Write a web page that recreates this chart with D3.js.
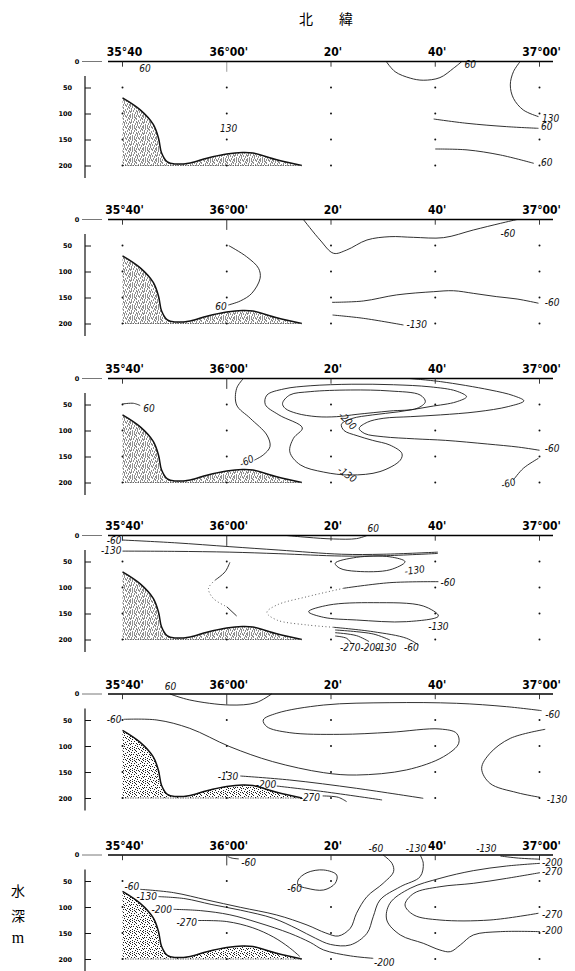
<!DOCTYPE html>
<html>
<head>
<meta charset="utf-8">
<script src="https://cdn.jsdelivr.net/npm/d3@7"></script>
<style>
body { margin: 0; background: #fff; }
svg { display: block; }
.stn { font-family: "DejaVu Sans Condensed", "DejaVu Sans", sans-serif; font-stretch: condensed; font-weight: bold; font-size: 12px; fill: #000; }
.cl { font-family: "Liberation Sans Narrow", "DejaVu Sans Condensed", "Liberation Sans", sans-serif; font-style: italic; font-size: 10px; fill: #111; }
.dep { opacity: 0.99; }
.dep text { font-family: "DejaVu Sans", sans-serif; font-weight: bold; font-size: 6.5px; fill: #000; }
.side { font-family: "Noto Sans CJK JP", sans-serif; font-size: 14px; fill: #000; }
</style>
</head>
<body>
<svg width="575" height="971"></svg>
<script>
/**********************
 Data (minutes north of 35°40', depth m)
**********************/
var stationMin = [0, 20, 40, 60, 80];
var stationText = ["35°40'", "36°00'", "20'", "40'", "37°00'"];
var depthTicks = [50, 100, 150, 200];
var sampleDepths = [50, 100, 150, 200];
var seabed = [[0,70],[3.4,93],[5.9,121],[6.9,147],[7.5,176],[8.6,193],[10,197],[13,195],[16.2,186],[20,178],[23,175],[25,176],[29.6,189],[34.4,200]];

// contour lines per section
var panel1 = [
  {v: 60, pts: [[50.6,0],[52.3,19.6],[55.2,32],[57.7,36],[60.9,31],[63.5,13],[65.1,0]]},
  {v: 130, pts: [[76.3,0],[75,19.6],[74.4,45],[75,70.8],[76.9,93.3],[79.8,106]]},
  {v: 60, pts: [[59.7,110.6],[66.1,118.9],[73.7,125.3],[79.8,128.5]]},
  {v: 60, pts: [[60,168.3],[66.1,170],[72.5,179.8],[78.9,195.8]]}
];
var panel2 = [
  {v: 60, pts: [[20.4,50.3],[23.8,71.5],[26.1,93.9],[26.4,113],[24.8,142],[22.6,156.7],[20.3,164.4]]},
  {v: -60, pts: [[34.7,0],[37.9,39.4],[40.5,65],[43,58.7],[46.9,39.4],[51.3,33],[55.8,34.3],[61.6,34.9],[67.3,20.2],[72.5,7.4],[75.7,0]]},
  {v: -60, pts: [[40.2,159.3],[46.2,156.7],[52.6,145],[59.7,138.8],[63.5,137],[67.3,142],[71.8,148.4],[75.7,152.9],[79.8,161]]},
  {v: -130, pts: [[40.3,183.7],[46.2,190],[53.9,202.9]]}
];
var panel3 = [
  {v: 60, pts: [[0,49],[2.1,47.7],[3.4,52]]},
  {v: -60, pts: [[23.2,0],[21.9,19],[21.9,51],[24.5,76.5],[27.7,108.7],[28.3,131],[27,147],[25.3,157]]},
  {v: -200, closed: true, pts: [[30.7,47.8],[32.1,31.7],[36,25.3],[43.7,22.1],[51.3,24],[57.1,31.7],[58.1,44.6],[56.5,57.4],[51.3,62.5],[45,68.9],[41.1,73.4],[37.3,73.4],[33.4,67],[31.2,57.4]]},
  {v: -130, closed: true, pts: [[27.7,32],[31,20],[36,14],[44,11],[52,12],[59,16],[64,24],[66,35],[64,45],[59,54],[53,64],[48,70],[44,77],[42,88],[42.5,100],[45,110],[48,119],[51.3,128],[53.6,144],[53.3,157],[49.4,179],[43.7,185.6],[38.6,180],[34.1,166],[32.1,141],[32.8,115],[34.5,95],[30,70],[27.4,50]]},
  {v: -60, pts: [[55,0],[61,6],[70.5,22],[75,33],[77,43],[74,54],[68,64],[61,70],[55.2,73.4],[50,76.6],[47,84],[45.4,96],[46.5,106],[50,112],[56,116],[62,119],[70,126],[76,132],[80,138]]},
  {v: -60, pts: [[75,195],[76.9,172.7],[79.8,153.5]]}
];
var panel4 = [
  {v: 60, pts: [[31.5,0],[35.4,3.5],[40.5,6.7],[44.9,6],[46.9,0]]},
  {v: -60, pts: [[0,8.7],[10,14],[20.6,21.5],[30,28],[42,36],[50,36],[60.5,32]]},
  {v: -130, pts: [[0,30],[10,30.5],[20.6,32],[30,35],[42,39.5],[50,39],[60.5,34.5]]},
  {v: -130, pts: [[20.6,51.6],[19.7,69.6],[17.8,85.6]]},
  {v: -130, dot: true, pts: [[17.8,85.6],[16.5,101.6],[17.4,120.8],[20,137]]},
  {v: -130, pts: [[20,137],[21.9,154.8]]},
  {v: -130, closed: true, pts: [[40.8,53.5],[44.9,42],[51.3,41],[54.2,50.4],[51.3,66],[44.9,68.9],[41.7,63]]},
  {v: -60, pts: [[60.6,88.8],[51.3,90.7],[42.4,101.5]]},
  {v: -60, dot: true, pts: [[42.4,101.5],[35.4,117.7],[29.6,133.7],[27.7,148],[29.6,162.5],[35.4,172],[40.5,176.5]]},
  {v: -60, pts: [[40.5,176.5],[48.1,185],[54.5,197.7],[56.8,210.6]]},
  {v: -130, closed: true, pts: [[35.7,146.5],[39.6,133.7],[48.1,129.2],[57.7,135.6],[60.6,154.8],[54.5,165.7],[44.9,162.5],[38.6,157.4]]},
  {v: -130, pts: [[40.8,181.7],[48.1,189.4],[51.3,201]]},
  {v: -200, pts: [[40.8,186.9],[44.9,192.6],[47.3,204]]},
  {v: -270, pts: [[40.8,193.3],[43,197.7],[43.9,207]]}
];
var panel5 = [
  {v: 60, pts: [[9.1,0],[12.9,11.5],[20.6,21.2],[25.6,16.7],[28.6,0]]},
  {v: -60, pts: [[0.2,48.7],[6.6,50],[12.9,66],[20.6,101.3],[28.8,130],[38.6,151.3],[44.9,155.8],[54.5,146],[61.6,120.5],[64.5,94.8],[64.1,75.6],[60.9,67.3],[51.3,73.7],[41.7,77.6],[32.1,74.4],[27.7,62.9],[27,50],[29.6,37],[38.6,21.2],[51.3,16.7],[64.1,17.9],[73.7,24.4],[80.4,32]]},
  {v: -130, pts: [[81.1,67.9],[74.4,85.3],[70.5,114],[68.9,143],[70.5,171.8],[75.7,189.7],[80.1,198.7]]},
  {v: -130, pts: [[22.6,157.7],[32.1,165.4],[44.9,181.4],[57.7,200.6]]},
  {v: -200, pts: [[29.6,177],[38.6,187.8],[49.8,203.8]]},
  {v: -270, pts: [[38.4,196],[41.4,198.7],[43,207]]}
];
var panel6 = [
  {v: -60, pts: [[20.2,3],[21,6],[22.3,7.5]]},
  {v: -60, closed: true, pts: [[33.7,48],[35.4,34],[38.6,28.8],[41.1,38.5],[40.8,54.5],[38.6,67.3],[35.4,64],[33.7,57.7]]},
  {v: -60, pts: [[3.4,66],[9.8,72.4],[16.2,86.5],[22.6,100.6],[29.6,115.4],[35.4,134.6],[39,150],[41.4,155.8],[43.7,141],[44.9,112],[46.9,80],[50,54.5],[52,32],[51.7,16],[50,0]]},
  {v: -130, pts: [[6.9,80],[12,84],[17,95],[22.6,106],[29,122],[33.5,142],[37,160],[39.9,172],[43.7,173],[46.9,150.6],[48.1,118.6],[49.4,86.5],[53.3,61],[57.1,41.7],[57.7,16],[57.1,0]]},
  {v: -200, pts: [[9.8,104.5],[15,107],[20.6,115],[26,130],[32.1,150.6],[36,168],[38.6,182.7],[43.7,194],[48.1,198.7]]},
  {v: -270, pts: [[14.5,126],[20,128],[25,140],[29,158],[32,178],[34,195]]},
  {v: -130, pts: [[72.5,2],[76,6],[80,8]]},
  {v: -200, pts: [[80.1,16],[73.7,21.2],[67.3,30.1],[60.9,44.9],[55.2,64],[51.3,92.9],[50.7,125],[53.3,153.8],[57.7,169.8],[60.9,182.7],[62.9,185.9],[64.8,173],[67.3,153.8],[72.5,147.4],[80.1,147.4]]},
  {v: -270, pts: [[80.1,34],[73.7,44.9],[67.3,54.5],[60.9,61],[55.9,73.7],[54.2,96],[55.9,115.4],[60.9,125],[70.5,125],[79.8,112]]}
];

// contour labels: [text, minute, depth, anchor, rotate]
var labels1 = [["60",3.2,19.6,"start",0],["130",18.7,135,"start",0],["60",65.6,13,"start",0],["130",80.5,115.8,"start",0],["60",80.3,132,"start",0],["60",80.3,201,"start",0]];
var labels2 = [["60",20,174,"end",0],["-60",72.5,33,"start",0],["-60",81,167,"start",0],["-130",54.5,208,"start",0]];
var labels3 = [["60",4,65,"start",0],["-60",24.1,165,"middle",-25],["-200",42.7,86,"middle",45],["-130",42.7,190,"middle",35],["-60",81,141,"start",0],["-60",74.2,208,"middle",-15]];
var labels4 = [["60",47,-7,"start",0],["-60",-0.2,16,"end",0],["-130",-0.2,36,"end",0],["-130",54.2,76,"start",-8],["-60",61,98,"start",0],["-130",60.6,182,"middle",0],["-270",43.7,222,"middle",0],["-200",47.6,222,"middle",0],["-130",50.6,222,"middle",0],["-60",55.4,222,"middle",0]];
var labels5 = [["60",9.2,-8,"middle",0],["-60",-0.2,55,"end",0],["-60",81.1,46,"start",0],["-130",22.2,166,"end",0],["-200",29.5,181,"end",0],["-270",37.9,205,"end",0],["-130",81.4,209,"start",0]];
var labels6 = [["-60",22.8,22,"start",0],["-60",33,72,"middle",0],["-60",3.2,67,"end",0],["-130",6.6,86.5,"end",0],["-200",9.5,112,"end",0],["-270",14.3,136.5,"end",0],["-60",48.6,-6,"middle",0],["-130",56.3,-6,"middle",0],["-130",69.8,-6,"middle",0],["-200",80.5,22,"start",0],["-270",80.5,38.5,"start",0],["-270",80.5,122,"start",0],["-200",80.5,152,"start",0],["-200",50.2,214,"middle",0]];

var panels = [panel1, panel2, panel3, panel4, panel5, panel6];
var panelLabels = [labels1, labels2, labels3, labels4, labels5, labels6];
var panelTop = [61.5, 219.5, 378.5, 535.5, 694, 855];

/**********************
 Scales and helpers
**********************/
var svg = d3.select('svg');
var x = d3.scaleLinear().domain([0, 80]).range([122.5, 539.5]);
var y = d3.scaleLinear().domain([0, 200]).range([0, 104]);

var openLine = d3.line().x(function(d) { return x(d[0]); }).y(function(d) { return y(d[1]); })
    .curve(d3.curveCatmullRom.alpha(0.5));
var closedLine = d3.line().x(function(d) { return x(d[0]); }).y(function(d) { return y(d[1]); })
    .curve(d3.curveCatmullRomClosed.alpha(0.5));
var seabedArea = d3.area().x(function(d) { return x(d[0]); }).y0(y(200)).y1(function(d) { return y(d[1]); })
    .curve(d3.curveCatmullRom.alpha(0.5));

// stipple pattern for the sea bed (irregular dot tile)
var stip = svg.append('defs').append('pattern')
    .attr('id', 'stip').attr('patternUnits', 'userSpaceOnUse')
    .attr('width', 13).attr('height', 11);
var stipDots = [[0,0],[4,0],[9,0],[11,1],[2,1],[6,2],[10,3],[1,3],[4,3],[8,4],[12,5],[3,5],[6,5],[0,6],[9,6],
                [5,7],[11,7],[2,8],[7,8],[10,9],[0,9],[4,9],[8,10],[12,10],[2,10],[6,10],[12,2],[7,6],[1,5],[5,1]];
stip.selectAll('rect').data(stipDots).enter().append('rect')
    .attr('x', function(d) { return d[0]; }).attr('y', function(d) { return d[1]; })
    .attr('width', 1).attr('height', 1).attr('fill', '#222');

/**********************
 Title and side label
**********************/
svg.append('text').attr('class', 'side').attr('x', 306).attr('y', 24).attr('text-anchor', 'middle').text('北');
svg.append('text').attr('class', 'side').attr('x', 346).attr('y', 24).attr('text-anchor', 'middle').text('緯');
svg.append('text').attr('class', 'side').attr('x', 18).attr('y', 896).attr('text-anchor', 'middle').text('水');
svg.append('text').attr('class', 'side').attr('x', 18).attr('y', 921).attr('text-anchor', 'middle').text('深');
svg.append('text').attr('x', 18).attr('y', 943).attr('text-anchor', 'middle')
    .style('font-family', '"Liberation Serif", serif').style('font-size', '16px').text('m');

/**********************
 Draw each section
**********************/
panels.forEach(function(contours, i) {
  var g = svg.append('g').attr('transform', 'translate(0,' + panelTop[i] + ')');

  // sea bed
  g.append('path').attr('d', seabedArea(seabed)).attr('fill', 'url(#stip)');
  g.append('path').attr('d', openLine(seabed)).attr('fill', 'none').attr('stroke', '#111').attr('stroke-width', 1.5);
  g.append('line').attr('x1', x(0)).attr('x2', x(34.4)).attr('y1', y(200)).attr('y2', y(200))
      .attr('stroke', '#444').attr('stroke-width', 0.8).attr('stroke-dasharray', '1.5,1');

  // contours
  g.selectAll('.contour').data(contours).enter().append('path')
      .attr('class', 'contour')
      .attr('d', function(d) { return d.closed ? closedLine(d.pts) : openLine(d.pts); })
      .attr('fill', 'none')
      .attr('stroke', '#1a1a1a')
      .attr('stroke-width', function(d) { return d.dot ? 0.7 : 0.9; })
      .attr('stroke-dasharray', function(d) { return d.dot ? '1,2.5' : null; });

  // contour labels
  g.selectAll('.cl').data(panelLabels[i]).enter().append('text')
      .attr('class', 'cl')
      .attr('text-anchor', function(d) { return d[3]; })
      .attr('transform', function(d) { return 'translate(' + x(d[1]) + ',' + y(d[2]) + ') rotate(' + d[4] + ')'; })
      .text(function(d) { return d[0]; });

  // sample points
  stationMin.forEach(function(m) {
    g.selectAll(null).data(sampleDepths).enter().append('circle')
        .attr('cx', x(m)).attr('cy', function(d) { return y(d); })
        .attr('r', 1).attr('fill', '#111');
  });

  // surface axis
  g.append('line').attr('x1', 108).attr('x2', 553).attr('y1', 0).attr('y2', 0)
      .attr('stroke', '#000').attr('stroke-width', 1.7);
  g.selectAll('.stick').data(stationMin).enter().append('line')
      .attr('class', 'stick')
      .attr('x1', function(d) { return x(d); }).attr('x2', function(d) { return x(d); })
      .attr('y1', 0).attr('y2', function(d) { return d === 20 ? y(20) : y(10); })
      .attr('stroke', '#222').attr('stroke-width', 0.9)
      .attr('stroke-dasharray', function(d) { return (d === 20 && i === 0) ? '1,1' : null; });
  g.selectAll('.stn').data(stationText).enter().append('text')
      .attr('class', 'stn')
      .attr('x', function(d, j) { return x(stationMin[j]) + 2; })
      .attr('y', -5.5)
      .attr('text-anchor', 'middle')
      .text(function(d, j) { return (i === 0 && j === 0) ? "35°40" : d; });

  // depth axis
  var ax = g.append('g').attr('class', 'dep').attr('transform', 'translate(85,0)')
      .call(d3.axisLeft(y).tickValues(depthTicks).tickSize(-6).tickPadding(13));
  ax.select('.domain').remove();
  ax.selectAll('line').attr('stroke', '#111');
  ax.append('text').attr('x', -8).attr('y', 2.2).attr('text-anchor', 'middle').text('0');
  g.append('line').attr('x1', 85).attr('x2', 85).attr('y1', y(28)).attr('y2', y(224))
      .attr('stroke', '#111').attr('stroke-width', 1.2);
  g.append('line').attr('x1', 82).attr('x2', 102).attr('y1', 0).attr('y2', 0)
      .attr('stroke', '#555').attr('stroke-width', 0.8);
});
</script>
</body>
</html>
